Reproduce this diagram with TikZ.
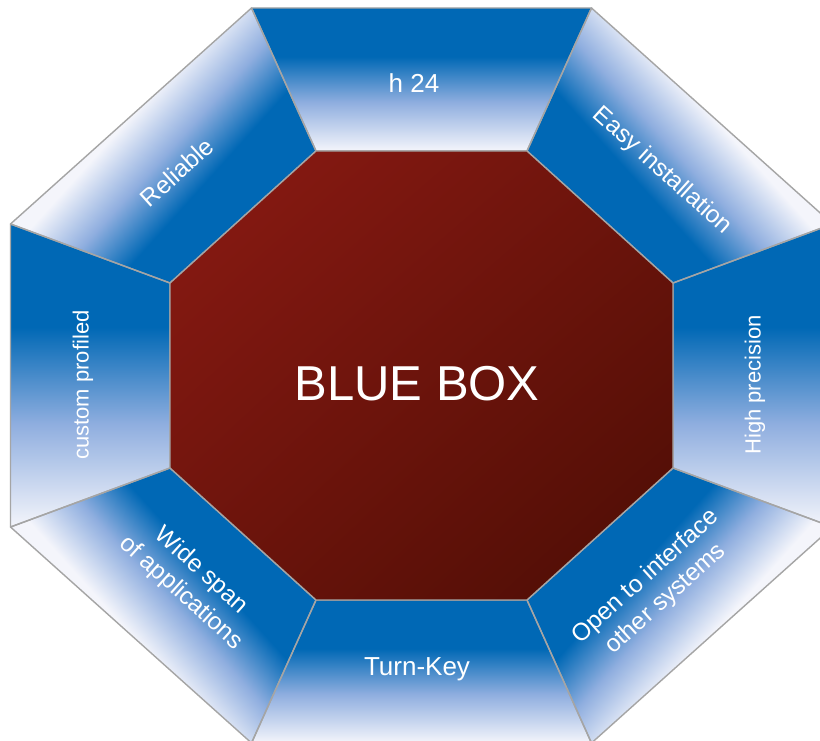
\documentclass[tikz,border=0pt]{standalone}
\usepackage{fontspec}
\setmainfont{Liberation Sans}
\usetikzlibrary{shadings}
\definecolor{segblue}{HTML}{0068B5}
\definecolor{seglight}{HTML}{8FAEDF}
\definecolor{segwhite}{HTML}{F4F5FB}
\definecolor{redA}{HTML}{8C1A13}
\definecolor{redB}{HTML}{4C0D04}
\definecolor{redM}{HTML}{6C140C}
\definecolor{edgegray}{HTML}{A5A5A5}
\pgfdeclareverticalshading{segshade}{100bp}{color(0bp)=(segwhite); color(25bp)=(segwhite); color(42bp)=(seglight); color(58bp)=(segblue); color(100bp)=(segblue)}
\pgfdeclareverticalshading{diagshade}{100bp}{color(0bp)=(segwhite); color(32.86bp)=(segwhite); color(44.5bp)=(seglight); color(55.5bp)=(segblue); color(100bp)=(segblue)}
\tikzset{
  seg/.style={draw=edgegray, line width=1.4pt, line join=round},
  lbl/.style={text=white, font=\fontsize{26}{31}\selectfont, align=center, inner sep=0pt},
  lbld/.style={lbl, font=\fontsize{24.5}{30}\selectfont},
  lblv/.style={lbl, font=\fontsize{22}{26}\selectfont},
}
\begin{document}
\begin{tikzpicture}[x=1pt,y=1pt]
\useasboundingbox (0,0) rectangle (820,740);
\fill[white] (0,0) rectangle (820,740);
% outer vertices
\coordinate (O1) at (251.5,732);
\coordinate (O2) at (591.5,732);
\coordinate (O3) at (832.5,516);
\coordinate (O4) at (832.5,213);
\coordinate (O5) at (591.5,-3);
\coordinate (O6) at (251.5,-3);
\coordinate (O7) at (10.5,213);
\coordinate (O8) at (10.5,516);
% inner vertices
\coordinate (I1) at (316,589);
\coordinate (I2) at (527,589);
\coordinate (I3) at (673,457);
\coordinate (I4) at (673,272);
\coordinate (I5) at (527,140);
\coordinate (I6) at (316,140);
\coordinate (I7) at (170,272);
\coordinate (I8) at (170,457);
% straight segments
\shade[shading=segshade] (O1) -- (O2) -- (I2) -- (I1) -- cycle;
\shade[shading=segshade] (O3) -- (O4) -- (I4) -- (I3) -- cycle;
\shade[shading=segshade] (O5) -- (O6) -- (I6) -- (I5) -- cycle;
\shade[shading=segshade] (O7) -- (O8) -- (I8) -- (I7) -- cycle;
% diagonal segments
\begin{scope}
  \clip (O2) -- (O3) -- (I3) -- (I2) -- cycle;
  \begin{scope}[transform canvas={shift={(656,573.5)}, rotate=132}]
    \shade[shading=diagshade] (-260,-110) rectangle (260,110);
  \end{scope}
\end{scope}
\begin{scope}
  \clip (O8) -- (O1) -- (I1) -- (I8) -- cycle;
  \begin{scope}[transform canvas={shift={(187,573.5)}, rotate=228}]
    \shade[shading=diagshade] (-260,-110) rectangle (260,110);
  \end{scope}
\end{scope}
\begin{scope}
  \clip (O4) -- (O5) -- (I5) -- (I4) -- cycle;
  \begin{scope}[transform canvas={shift={(656,155.5)}, rotate=48}]
    \shade[shading=diagshade] (-260,-110) rectangle (260,110);
  \end{scope}
\end{scope}
\begin{scope}
  \clip (O6) -- (O7) -- (I7) -- (I6) -- cycle;
  \begin{scope}[transform canvas={shift={(187,155.5)}, rotate=-48}]
    \shade[shading=diagshade] (-260,-110) rectangle (260,110);
  \end{scope}
\end{scope}
% segment outlines
\draw[seg] (O1) -- (O2) -- (I2) -- (I1) -- cycle;
\draw[seg] (O2) -- (O3) -- (I3) -- (I2) -- cycle;
\draw[seg] (O3) -- (O4) -- (I4) -- (I3) -- cycle;
\draw[seg] (O4) -- (O5) -- (I5) -- (I4) -- cycle;
\draw[seg] (O5) -- (O6) -- (I6) -- (I5) -- cycle;
\draw[seg] (O6) -- (O7) -- (I7) -- (I6) -- cycle;
\draw[seg] (O7) -- (O8) -- (I8) -- (I7) -- cycle;
\draw[seg] (O8) -- (O1) -- (I1) -- (I8) -- cycle;
% centre octagon
\shade[upper left=redA, lower right=redB, upper right=redM, lower left=redM]
  (I1) -- (I2) -- (I3) -- (I4) -- (I5) -- (I6) -- (I7) -- (I8) -- cycle;
\draw[seg] (I1) -- (I2) -- (I3) -- (I4) -- (I5) -- (I6) -- (I7) -- (I8) -- cycle;
% labels
\node[lbl, font=\fontsize{49}{55}\selectfont] (center) at (417,356) {BLUE BOX};
\node[lbl] (top) at (414,657) {h 24};
\node[lbld, rotate=-42] (ur) at (662,569) {Easy installation};
\node[lblv, rotate=90] (right) at (755,355) {High precision};
\node[lbld, rotate=42] (lr) at (656,152) {Open to interface\\other systems};
\node[lbl] (bottom) at (417,71) {Turn-Key};
\node[lbld, rotate=-42] (ll) at (191,158) {Wide span\\of applications};
\node[lblv, rotate=90] (left) at (83,355) {custom profiled};
\node[lbld, rotate=42] (ul) at (177,568) {Reliable};
\end{tikzpicture}
\end{document}
